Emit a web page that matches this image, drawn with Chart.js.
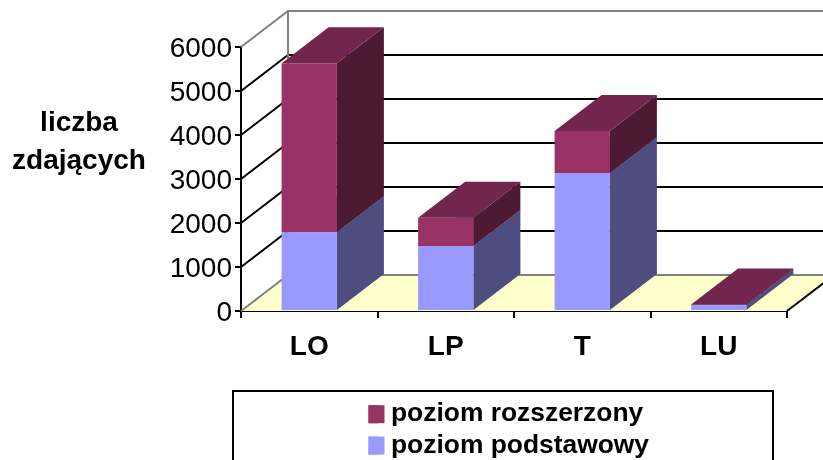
<!DOCTYPE html>
<html><head><meta charset="utf-8">
<style>html,body{margin:0;padding:0;background:#fff;overflow:hidden}canvas{display:block}</style>
<script src="https://cdn.jsdelivr.net/npm/chart.js@4"></script>
</head><body><canvas id="c" width="823" height="460"></canvas>
<script>
const categories = ['LO','LP','T','LU'];
const basicValues = [1790,1480,3130,130];
const extendedValues = [3840,640,960,20];
const seriesNames = ['poziom podstawowy','poziom rozszerzony'];
const axisTitleLines = ['liczba','zdających'];
const yTickStep = 1000, yMax = 6000;

const FONT = '"Liberation Sans", Arial, sans-serif';
const DX = 47, DY = -36;
const shades = [{front:'#9999FF',side:'#4D4D80',top:'#737399'},{front:'#993366',side:'#4D1A33',top:'#73264D'}];
const LEG_PAD = 5, LEG_FONT = 26.4, LEG_BOX = 18;

const scene3d = {
  id:'scene3d',
  beforeDatasetsDraw(chart){
    const c = chart.ctx, x = chart.scales.x, y = chart.scales.y;
    const l = x.left, r = x.right, y0 = y.getPixelForValue(0);
    c.save();
    c.fillStyle = '#FFFFCC';
    c.beginPath();
    c.moveTo(l,y0); c.lineTo(l+DX,y0+DY); c.lineTo(r+DX,y0+DY); c.lineTo(r,y0); c.closePath(); c.fill();
    y.ticks.forEach(t=>{
      const py = y.getPixelForValue(t.value);
      const edge = (t.value===0 || t.value===yMax);
      c.strokeStyle = edge ? '#808080' : '#000';
      c.lineWidth = 2;
      c.beginPath(); c.moveTo(l,py); c.lineTo(l+DX,py+DY); c.lineTo(r+DX,py+DY); c.stroke();
    });
    c.strokeStyle='#808080'; c.lineWidth=2;
    c.beginPath(); c.moveTo(l+DX,y.getPixelForValue(yMax)+DY); c.lineTo(l+DX,y0+DY); c.stroke();
    c.strokeStyle='#000'; c.lineWidth=2;
    c.beginPath(); c.moveTo(r,y0); c.lineTo(r+DX,y0+DY); c.stroke();
    const m0 = chart.getDatasetMeta(0), m1 = chart.getDatasetMeta(1);
    categories.forEach((_,i)=>{
      [m0,m1].forEach((m,k)=>{
        const b = m.data[i].getProps(['x','y','base','width'],false);
        const x1=b.x-b.width/2, x2=b.x+b.width/2;
        c.fillStyle=shades[k].side;
        c.beginPath(); c.moveTo(x2,b.base); c.lineTo(x2+DX,b.base+DY); c.lineTo(x2+DX,b.y+DY); c.lineTo(x2,b.y); c.closePath(); c.fill();
        c.fillStyle=shades[k].top;
        c.beginPath(); c.moveTo(x1,b.y); c.lineTo(x2,b.y); c.lineTo(x2+DX,b.y+DY); c.lineTo(x1+DX,b.y+DY); c.closePath(); c.fill();
      });
    });
    c.restore();
  },
  afterLayout(chart){
    const lg = chart.legend;
    lg.left=363.5; lg.right=760; lg.top=396; lg.bottom=560;
    lg.width=396.5; lg.height=164;
  },
  afterDraw(chart){
    const lg = chart.legend, c = chart.ctx;
    c.save();
    lg.legendItems.forEach((it,i)=>{
      c.fillStyle=it.fillStyle;
      c.fillRect(lg.left+LEG_PAD, lg.top+LEG_PAD+i*(LEG_FONT+LEG_PAD)+(LEG_FONT-LEG_BOX)/2, 16, LEG_BOX);
    });
    c.restore();
  },
  beforeDraw(chart){
    const c = chart.ctx;
    c.save();
    c.fillStyle='#fff'; c.fillRect(0,0,823,460);
    c.strokeStyle='#000'; c.lineWidth=2;
    c.strokeRect(233,391,540,90);
    c.fillStyle='#000'; c.font='bold 28px '+FONT; c.textAlign='center'; c.textBaseline='middle';
    c.fillText(axisTitleLines[0],79,123);
    c.fillText(axisTitleLines[1],79,161);
    c.restore();
  }
};

new Chart(document.getElementById('c'),{
  type:'bar',
  data:{labels:categories,datasets:[
    {label:seriesNames[0],data:basicValues,backgroundColor:shades[0].front,borderWidth:0},
    {label:seriesNames[1],data:extendedValues,backgroundColor:shades[1].front,borderWidth:0}
  ]},
  plugins:[scene3d],
  options:{
    responsive:false,animation:false,
    layout:{padding:{left:0,right:36,top:47,bottom:0}},
    datasets:{bar:{categoryPercentage:1,barPercentage:0.405}},
    plugins:{
      tooltip:{enabled:false},
      legend:{position:'chartArea',reverse:true,align:'start',
        labels:{boxWidth:9.3,boxHeight:LEG_BOX,padding:LEG_PAD,color:'#000',font:{family:FONT,size:LEG_FONT,weight:'bold'}}}
    },
    scales:{
      x:{stacked:true,
        afterFit(s){s.height=149;},
        grid:{drawOnChartArea:false,color:'#000',lineWidth:2,tickLength:7,tickColor:'#000'},
        border:{color:'#000',width:2},
        ticks:{color:'#000',padding:12,maxRotation:0,font:{family:FONT,size:28,weight:'bold'}}},
      y:{stacked:true,min:0,max:yMax,
        afterFit(s){
          s.width=241;
          if(!s._nudged){
            s._nudged=true;
            const orig=s._computeLabelItems.bind(s);
            s._computeLabelItems=function(a){
              const items=orig(a);
              items.forEach(i=>{i.options.translation=[i.options.translation[0],i.options.translation[1]+2];});
              return items;
            };
          }
        },
        grid:{drawOnChartArea:false,color:'#000',lineWidth:2,tickLength:6,tickColor:'#000'},
        border:{color:'#000',width:2},
        ticks:{stepSize:yTickStep,color:'#000',padding:3,font:{family:FONT,size:28},callback:v=>String(v)}}
    }
  }
});
</script></body></html>
